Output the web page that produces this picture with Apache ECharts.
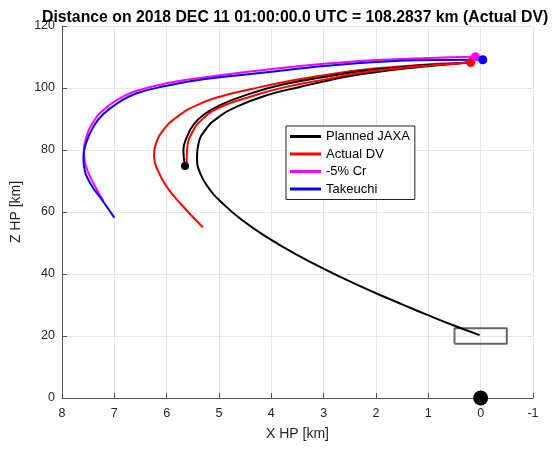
<!DOCTYPE html>
<html>
<head>
<meta charset="utf-8">
<script src="https://cdn.jsdelivr.net/npm/echarts@6/dist/echarts.min.js"></script>
<style>html,body{margin:0;padding:0;background:#fff}#c{width:553px;height:450px}</style>
</head>
<body>
<div id="c"></div>
<script>
// ---- data ----
var titleText = 'Distance on 2018 DEC 11 01:00:00.0 UTC = 108.2837 km (Actual DV)';
var xTicks = [-1, 0, 1, 2, 3, 4, 5, 6, 7, 8];
var yTicks = [0, 20, 40, 60, 80, 100, 120];

var plannedA_x = [0.02,0.5,1.02,1.5,2.0,2.5,3.0,3.5,4.0,4.56,5.0,5.17,5.36,5.42,5.39,5.26,5.04,4.66,4.08,3.44,2.87,2.3,1.66,1.02,0.5,0.22];
var plannedA_y = [20.3,23.3,26.8,30.2,33.8,37.6,41.7,46.1,51.0,57.4,63.9,67.1,72.5,77.8,82.2,86.5,90.2,94.0,97.7,100.4,102.6,104.4,105.9,107.0,107.8,108.2];

var plannedB_x = [5.65,5.68,5.61,5.49,5.30,4.98,4.40,3.76,2.87,2.3,1.66,1.02,0.5,0.22];
var plannedB_y = [74.8,80.0,84.3,88.1,91.3,94.5,98.2,101.2,103.9,105.4,106.5,107.4,107.9,108.2];

var actualA_x = [5.62,5.61,5.52,5.30,4.98,4.40,3.76,2.87,2.3,1.66,1.02,0.5,0.19];
var actualA_y = [75.2,80.0,85.4,90.2,93.8,97.2,100.2,103.1,104.9,106.2,107.2,107.8,108.2];

var actualB_x = [5.31,5.68,6.0,6.20,6.24,6.20,6.06,5.80,5.42,4.98,4.40,3.6,2.87,2.3,1.66,1.02,0.5,0.19];
var actualB_y = [55.1,61.7,68.2,74.6,77.8,82.2,86.5,90.7,94.5,97.2,99.6,102.4,104.4,105.8,106.8,107.6,108.0,108.2];

var cr_x = [7.21,7.40,7.54,7.58,7.53,7.40,7.21,6.89,6.57,6.0,5.30,4.40,3.5,3.0,2.0,1.0,0.1];
var cr_y = [63.6,69.3,74.6,78.9,84.3,89.1,92.9,96.7,99.1,101.5,103.4,105.3,107.0,107.8,109.0,109.7,110.1];

var tak_x = [7.0,7.21,7.46,7.58,7.59,7.54,7.40,7.21,6.89,6.57,6.0,5.30,4.40,3.5,3.0,2.0,1.0,-0.04];
var tak_y = [58.2,63.3,69.3,74.6,77.8,82.2,87.5,91.6,95.6,98.3,100.7,102.8,104.5,106.2,107.1,108.4,109.0,109.1];

var endRed = [0.19, 108.2];
var endMagenta = [0.1, 110.1];
var endBlue = [-0.04, 109.1];
var startBlack = [5.65, 74.8];
var origin = [0, 0];
var box_x = [0.5, -0.5, -0.5, 0.5, 0.5];
var box_y = [17.5, 17.5, 22.5, 22.5, 17.5];

var names = ['Planned JAXA', 'Actual DV', '-5% Cr', 'Takeuchi'];
var colors = ['#000000', '#ff0000', '#ff00ff', '#0000ff'];

function zip(xs, ys) { return xs.map(function (v, i) { return [v, ys[i]]; }); }

var FONT = 'Liberation Sans, Arial, Helvetica, sans-serif';

function lineSeries(name, color, xs, ys) {
  return {
    type: 'line', name: name, data: zip(xs, ys), smooth: 0.5,
    showSymbol: false, symbol: 'none', clip: false,
    lineStyle: { color: color, width: 2 }, itemStyle: { color: color },
    emphasis: { disabled: true }, silent: true, animation: false
  };
}
function dot(point, color, size) {
  return {
    type: 'scatter', data: [point], symbol: 'circle', symbolSize: size, clip: false,
    itemStyle: { color: color, opacity: 1 }, silent: true, animation: false, z: 5
  };
}

var chart = echarts.init(document.getElementById('c'), null, { renderer: 'canvas' });
chart.setOption({
  animation: false,
  backgroundColor: '#fff',
  title: {
    text: titleText, left: 42, top: 10, padding: 0,
    textStyle: { fontFamily: FONT, fontSize: 15.8, fontWeight: 'bold', color: '#000' }
  },
  grid: { left: 62, right: 20, top: 26, bottom: 52, containLabel: false },
  legend: {
    data: names.map(function (n, i) { return { name: n, icon: 'rect', itemStyle: { color: colors[i] } }; }),
    orient: 'vertical', left: 286, top: 126,
    padding: [4, 5, 4, 4], itemWidth: 31, itemHeight: 3, itemGap: 4.5, itemTextGap: 4,
    borderColor: '#222', borderWidth: 1, backgroundColor: '#fff',
    textStyle: { fontFamily: FONT, fontSize: 13, color: '#000', lineHeight: 13 },
    selectedMode: false
  },
  xAxis: {
    type: 'value', inverse: true, min: -1, max: 8, interval: 1,
    name: 'X HP [km]', nameLocation: 'middle', nameGap: 29,
    nameTextStyle: { fontFamily: FONT, fontSize: 14, color: '#262626' },
    axisLine: { show: true, onZero: false, lineStyle: { color: '#555', width: 1 } },
    axisTick: { show: true, inside: true, length: 5, lineStyle: { color: '#555' } },
    axisLabel: { fontFamily: FONT, fontSize: 12.5, color: '#262626', margin: 9 },
    splitLine: { show: true, lineStyle: { color: '#e6e6e6', width: 1 } }
  },
  yAxis: {
    type: 'value', min: 0, max: 120, interval: 20,
    name: 'Z HP [km]', nameLocation: 'middle', nameGap: 37,
    nameTextStyle: { fontFamily: FONT, fontSize: 14, color: '#262626' },
    axisLine: { show: true, onZero: false, lineStyle: { color: '#555', width: 1 } },
    axisTick: { show: true, inside: true, length: 5, lineStyle: { color: '#555' } },
    axisLabel: { fontFamily: FONT, fontSize: 12.5, color: '#262626', margin: 7 },
    splitLine: { show: true, lineStyle: { color: '#e6e6e6', width: 1 } }
  },
  series: [
    {
      type: 'line', data: zip(box_x, box_y), showSymbol: false, symbol: 'none',
      lineStyle: { color: '#666', width: 2 }, silent: true, animation: false, clip: false
    },
    lineSeries(names[0], colors[0], plannedA_x, plannedA_y),
    lineSeries(names[1], colors[1], actualB_x, actualB_y),
    lineSeries(names[0], colors[0], plannedB_x, plannedB_y),
    lineSeries(names[1], colors[1], actualA_x, actualA_y),
    lineSeries(names[2], colors[2], cr_x, cr_y),
    lineSeries(names[3], colors[3], tak_x, tak_y),
    dot(endRed, '#ff0000', 9),
    dot(endMagenta, '#ff00ff', 9),
    dot(endBlue, '#0000ff', 9),
    dot(startBlack, '#000000', 8),
    dot(origin, '#000000', 15)
  ]
});
</script>
</body>
</html>
